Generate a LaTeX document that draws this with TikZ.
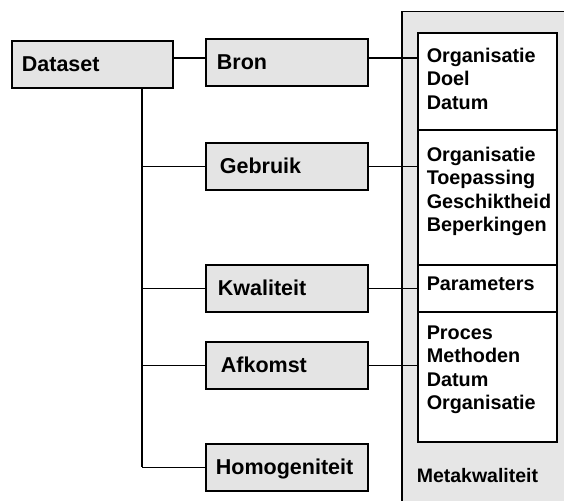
\documentclass[tikz,border=0pt]{standalone}
\usepackage{fontspec}
\setmainfont{Liberation Sans}
\usetikzlibrary{calc}
\definecolor{boxgray}{HTML}{E4E4E4}
\definecolor{panelgray}{HTML}{E6E6E6}
\begin{document}
\begin{tikzpicture}[x=1pt,y=-1pt,
  line width=1.5pt,
  mainbox/.style={draw=black, fill=boxgray, line width=1.8pt, anchor=north west,
    minimum height=47pt, text height=15pt, text depth=0pt, align=left,
    font=\fontsize{21.5}{24}\selectfont\bfseries},
  infobox/.style={draw=black, fill=white, line width=1.6pt, anchor=north west,
    minimum width=139pt, inner sep=0pt},
  infotext/.style={anchor=north west, inner sep=0pt, align=left,
    font=\fontsize{19.8}{23.5}\selectfont\bfseries},
  link/.style={draw=black, line width=1.5pt}]
\useasboundingbox (0,0) rectangle (564,500);
\clip (0,0) rectangle (564,500);

% metadata panel on the right, running off the edges
\node[draw=black, fill=panelgray, line width=1.5pt, anchor=north west,
  minimum width=180pt, minimum height=510pt, inner sep=0pt] (panel) at (401,11) {};
\node[infotext, anchor=base west, font=\fontsize{19.5}{23}\selectfont\bfseries] (meta) at (416,482) {Metakwaliteit};

% left-hand boxes
\node[mainbox, minimum width=161pt, text width=141pt, inner xsep=10pt] (dataset) at (11,40) {Dataset};
\node[mainbox, minimum width=162pt, text width=140pt, inner xsep=11pt] (bron) at (205,38) {Bron};
\node[mainbox, minimum width=162pt, text width=134pt, inner xsep=14pt] (gebruik) at (205,142) {Gebruik};
\node[mainbox, minimum width=162pt, text width=138pt, inner xsep=12pt] (kwaliteit) at (205,264) {Kwaliteit};
\node[mainbox, minimum width=162pt, text width=132pt, inner xsep=15pt] (afkomst) at (205,341) {Afkomst};
\node[mainbox, minimum width=162pt, text width=142pt, inner xsep=10pt] (homog) at (205,443) {Homogeniteit};

% white boxes with the metadata items
\node[infobox, minimum height=97pt] (w1) at (417,32) {};
\node[infobox, minimum height=135pt] (w2) at (417,129) {};
\node[infobox, minimum height=47pt] (w3) at (417,264) {};
\node[infobox, minimum height=130pt] (w4) at (417,311) {};

\node[infotext] (t1) at (426,47) {Organisatie\\Doel\\Datum};
\node[infotext] (t2) at (426,146) {Organisatie\\Toepassing\\Geschiktheid\\Beperkingen};
\node[infotext] (t3) at (426,276) {Parameters};
\node[infotext] (t4) at (426,325) {Proces\\Methoden\\Datum\\Organisatie};

% connectors
\coordinate (jb) at (0,58);
\coordinate (trunk) at (142,0);
\coordinate (tend) at (142,467);
\draw[link] (dataset.east |- jb) -- (bron.west |- jb);
\draw[link] (bron.east |- jb) -- (w1.west |- jb);
\draw[link] (dataset.south -| trunk) -- (tend);
\draw[link] (trunk |- gebruik.west) -- (gebruik.west);
\draw[link] (trunk |- kwaliteit.west) -- (kwaliteit.west);
\draw[link] (trunk |- afkomst.west) -- (afkomst.west);
\draw[link] (trunk |- homog.west) -- (homog.west);
\draw[link] (gebruik.east) -- (gebruik.east -| w2.west);
\draw[link] (kwaliteit.east) -- (kwaliteit.east -| w3.west);
\draw[link] (afkomst.east) -- (afkomst.east -| w4.west);
\end{tikzpicture}
\end{document}
